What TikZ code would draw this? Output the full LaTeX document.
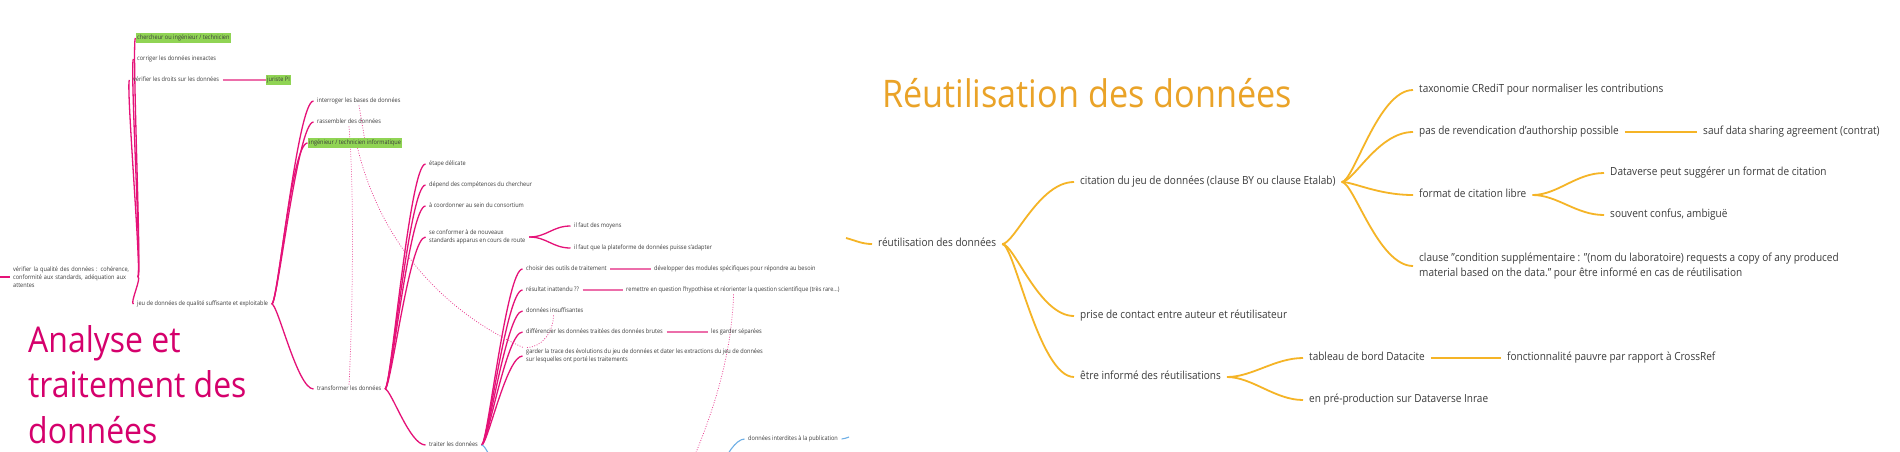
\documentclass[tikz,border=0pt]{standalone}
\usepackage{fontspec}
\setmainfont{Open Sans}[FakeStretch=0.9]
\usetikzlibrary{backgrounds}
\definecolor{txt}{RGB}{60,60,60}
\definecolor{pkline}{RGB}{229,18,120}
\definecolor{pklight}{RGB}{236,110,170}
\definecolor{pktitle}{RGB}{213,0,108}
\definecolor{grn}{RGB}{144,212,84}
\definecolor{orline}{RGB}{245,180,38}
\definecolor{ortitle}{RGB}{234,163,40}
\definecolor{blline}{RGB}{110,175,230}
\newcommand\pinkf{\fontsize{6.2}{8}\selectfont}
\newcommand\orf{\fontsize{11.15}{15.5}\selectfont}
\begin{document}
\begin{tikzpicture}[x=1pt,y=1pt,
  pn/.style={anchor=west, inner xsep=3.5pt, inner ysep=1pt, font=\pinkf, text=txt, text height=4.8pt, text depth=1.5pt},
  pnm/.style={anchor=west, inner xsep=3.5pt, inner ysep=1pt, font=\pinkf, text=txt, align=left},
  gn/.style={pn, fill=grn, inner xsep=1.5pt, inner ysep=1.5pt},
  on/.style={anchor=west, inner xsep=6pt, inner ysep=1pt, font=\orf, text=txt, text height=8.5pt, text depth=2.6pt},
  onm/.style={anchor=west, inner xsep=6pt, inner ysep=1pt, font=\orf, text=txt, align=left},
  pktit/.style={anchor=base west, inner sep=0pt, font=\fontsize{35.5}{40}\selectfont, text=pktitle},
  ortit/.style={anchor=base west, inner sep=0pt, font=\fontsize{38}{44}\selectfont, text=ortitle},
  pk/.style={draw=pkline, line width=1.3pt},
  pks/.style={draw=pklight, line width=1.4pt},
  pv/.style={out=0, in=180, out distance=4pt, in distance=4pt},
  pb/.style={out=0, in=180, out distance=6pt, in distance=16pt},
  ps/.style={out=0, in=180, out distance=18pt, in distance=18pt},
  orl/.style={draw=orline, line width=1.8pt},
  ob/.style={out=0, in=180, out distance=12pt, in distance=35pt},
  os/.style={out=0, in=180, out distance=25pt, in distance=28pt},
  bl/.style={draw=blline, line width=1.1pt},
  rel/.style={draw=pkline!80, line width=0.75pt, dash pattern=on 0.9pt off 1.6pt}
]
\useasboundingbox (0,0) rectangle (1900,-451);
\clip (0,0) rectangle (1900,-451);

% titles
\node[pktit] (TA1) at (28,-352) {Analyse et};
\node[pktit] (TA2) at (28,-397) {traitement des};
\node[pktit] (TA3) at (28,-443) {données};
\node[ortit] (TB) at (882,-107) {Réutilisation des données};

% pink branch
\node[pnm, text width=121pt] (P0) at (9.5,-277) {vérifier la qualité des données : cohérence,\\conformité aux standards, adéquation aux\\attentes};
\node[gn] (P1) at (135.5,-38) {chercheur ou ingénieur / technicien};
\node[pn] (P2) at (133.5,-59) {corriger les données inexactes};
\node[pn] (P3) at (129.5,-80) {vérifier les droits sur les données};
\node[gn] (P3a) at (265.5,-80) {juriste PI};
\node[pn] (P4) at (133.5,-304) {jeu de données de qualité suffisante et exploitable};
\node[pn] (P5) at (313.5,-101) {interroger les bases de données};
\node[pn] (P6) at (313.5,-122) {rassembler des données};
\node[gn] (P7) at (307.5,-143) {ingénieur / technicien informatique};
\node[pn] (P8) at (313.5,-389) {transformer les données};
\node[pn] (P9) at (425.5,-164) {étape délicate};
\node[pn] (P10) at (425.5,-185) {dépend des compétences du chercheur};
\node[pn] (P11) at (425.5,-206) {à coordonner au sein du consortium};
\node[pnm] (P12) at (425.5,-237) {se conformer à de nouveaux\\standards apparus en cours de route};
\node[pn] (P12a) at (570.5,-226) {il faut des moyens};
\node[pn] (P12b) at (570.5,-248) {il faut que la plateforme de données puisse s'adapter};
\node[pn] (P13) at (425.5,-445) {traiter les données};
\node[pn] (P14) at (522.5,-269) {choisir des outils de traitement};
\node[pn] (P14a) at (650.5,-269) {développer des modules spécifiques pour répondre au besoin};
\node[pn] (P15) at (522.5,-290) {résultat inattendu ??};
\node[pn] (P15a) at (622.5,-290) {remettre en question l'hypothèse et réorienter la question scientifique (très rare...)};
\node[pn] (P16) at (522.5,-311) {données insuffisantes};
\node[pn] (P17) at (522.5,-332) {différencier les données traitées des données brutes};
\node[pn] (P17a) at (707.5,-332) {les garder séparées};
\node[pnm] (P18) at (522.5,-356) {garder la trace des évolutions du jeu de données et dater les extractions du jeu de données\\sur lesquelles ont porté les traitements};
\node[pn] (B1) at (744.5,-439) {données interdites à la publication};

% orange branch
\node[on] (O0) at (872,-244) {réutilisation des données};
\node[on] (O1) at (1074,-182) {citation du jeu de données (clause BY ou clause Etalab)};
\node[on] (O1a) at (1413,-90) {taxonomie CRediT pour normaliser les contributions};
\node[on] (O1b) at (1413,-132) {pas de revendication d'authorship possible};
\node[on] (O1b1) at (1697,-132) {sauf data sharing agreement (contrat)};
\node[on] (O1c) at (1413,-195) {format de citation libre};
\node[on] (O1c1) at (1604,-173) {Dataverse peut suggérer un format de citation};
\node[on] (O1c2) at (1604,-215) {souvent confus, ambiguë};
\node[onm] (O1d) at (1413,-266) {clause "condition supplémentaire : "(nom du laboratoire) requests a copy of any produced\\material based on the data." pour être informé en cas de réutilisation};
\node[on] (O2) at (1074,-316) {prise de contact entre auteur et réutilisateur};
\node[on] (O3) at (1074,-377) {être informé des réutilisations};
\node[on] (O3a) at (1303,-358) {tableau de bord Datacite};
\node[on] (O3a1) at (1501,-358) {fonctionnalité pauvre par rapport à CrossRef};
\node[on] (O3b) at (1303,-400) {en pré-production sur Dataverse Inrae};

% free ends
\coordinate (pin) at (0,-277);
\coordinate (oin) at (846,-238);
\coordinate (bout) at (494,-478);
\coordinate (bin) at (722,-470);
\coordinate (btick) at (849,-437);
\coordinate (relE) at (684,-480);

\begin{scope}[on background layer]
\fill[white] (0,0) rectangle (1900,-451);
% pink tree
\draw[pk] (pin) -- (P0.west);
\foreach \cc in {P1,P2,P3,P4} \draw[pk] (P0.east) to[pv] (\cc.west);
\foreach \cc in {P5,P6,P7,P8} \draw[pk] (P4.east) to[pb] (\cc.west);
\foreach \cc in {P9,P10,P11,P12,P13} \draw[pk] (P8.east) to[pb] (\cc.west);
\foreach \cc in {P12a,P12b} \draw[pk] (P12.east) to[ps] (\cc.west);
\foreach \cc in {P14,P15,P16,P17,P18} \draw[pk] (P13.east) to[pb] (\cc.west);
\draw[pks] (P3.east) -- (P3a.west);
\draw[pks] (P14.east) -- (P14a.west);
\draw[pks] (P15.east) -- (P15a.west);
\draw[pks] (P17.east) -- (P17a.west);
% relationships
\draw[rel] ([xshift=45.5pt]P5.south west) -- ([xshift=57pt]P7.north west);
\draw[rel] ([xshift=35.5pt]P6.south west) .. controls (355,-200) and (352,-330) .. ([xshift=35.5pt]P8.north west);
\draw[rel] ([xshift=50pt]P7.south west) .. controls (380,-240) and (440,-310) .. ([xshift=1pt]P18.north west);
\draw[rel] ([xshift=31pt]P16.south west) .. controls (553,-333) and (542,-347) .. ([xshift=4pt]P18.north west);
\draw[rel] ([xshift=111pt]P15a.south west) .. controls (732,-350) and (716,-410) .. (relE);
% blue
\draw[bl] (P13.east) to[out=0, in=90, out distance=4pt, in distance=15pt] (bout);
\draw[bl] (bin) to[out=80, in=180, out distance=15pt, in distance=8pt] (B1.west);
\draw[bl] (B1.east) to[out=0, in=200, distance=2pt] (btick);
% orange tree
\draw[orl] (oin) to[out=-15, in=180, distance=10pt] (O0.west);
\foreach \cc in {O1,O2,O3} \draw[orl] (O0.east) to[ob] (\cc.west);
\foreach \cc in {O1a,O1b,O1c,O1d} \draw[orl] (O1.east) to[ob] (\cc.west);
\foreach \cc in {O1c1,O1c2} \draw[orl] (O1c.east) to[os] (\cc.west);
\foreach \cc in {O3a,O3b} \draw[orl] (O3.east) to[os] (\cc.west);
\draw[orl] (O1b.east) -- (O1b1.west);
\draw[orl] (O3a.east) -- (O3a1.west);
\end{scope}
\end{tikzpicture}
\end{document}
